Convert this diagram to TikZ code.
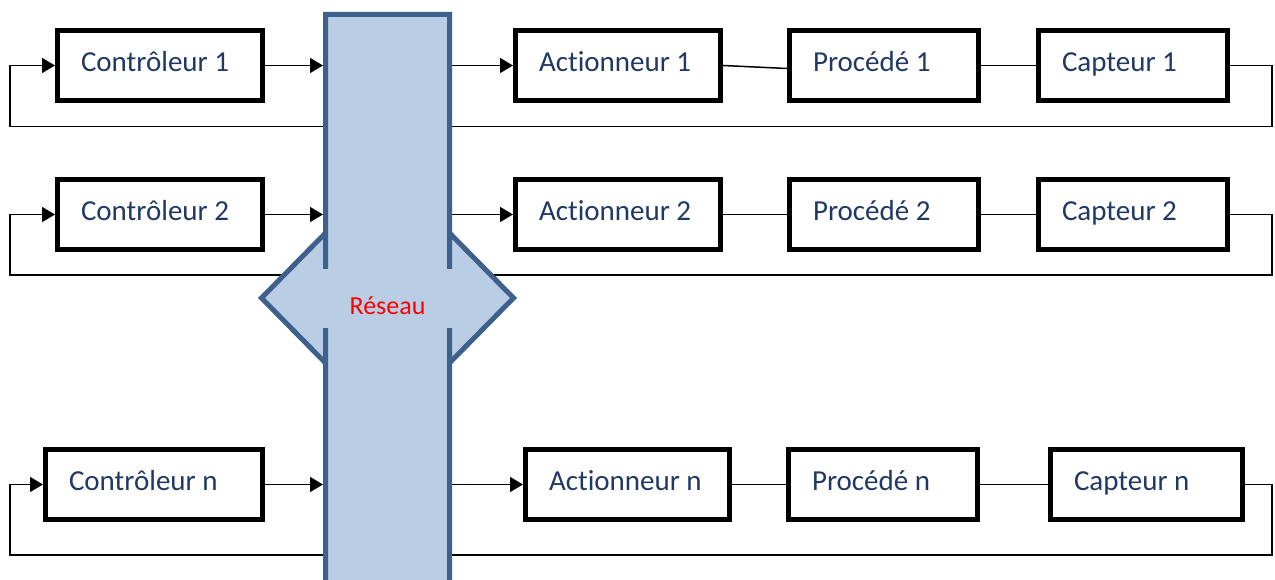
\documentclass[tikz,border=0pt]{standalone}
\usepackage{fontspec}
\setmainfont[Ligatures=NoCommon]{Carlito}
\usetikzlibrary{positioning,arrows.meta}
\definecolor{texte}{RGB}{31,56,100}
\definecolor{reseautrait}{RGB}{61,96,140}
\definecolor{reseaufond}{RGB}{185,205,228}

\begin{document}
\begin{tikzpicture}[x=1pt,y=-1pt,
    bloc/.style = {draw, line width=5pt, minimum height=70pt, inner xsep=23.5pt, text width=#1, align=flush left,
                   text height=20pt, text depth=8.5pt, text=texte, font=\fontsize{29}{34}\selectfont},
    bloc/.default=158pt,
    lien/.style = {line width=1.5pt},
    fleche/.style = {lien, -{Triangle[length=13pt,width=15pt]}}]
    \useasboundingbox (0,0) rectangle (1275,580);

    % boucle 1
    \node[bloc] (ctl1) at (160,65.5) {Contrôleur 1};
    \node[bloc, right=248pt of ctl1] (act1) {Actionneur 1};
    \node[bloc=142pt, right=64pt of act1] (proc1) {Procédé 1};
    \node[bloc=142pt, right=55pt of proc1] (cap1) {Capteur 1};

    % boucle 2
    \node[bloc] (ctl2) at (160,214.5) {Contrôleur 2};
    \node[bloc, right=248pt of ctl2] (act2) {Actionneur 2};
    \node[bloc=142pt, right=64pt of act2] (proc2) {Procédé 2};
    \node[bloc=142pt, right=55pt of proc2] (cap2) {Capteur 2};

    % boucle n
    \node[bloc=170pt] (ctln) at (154,484.5) {Contrôleur n};
    \node[bloc=157pt, right=258pt of ctln] (actn) {Actionneur n};
    \node[bloc=142pt, right=54pt of actn] (procn) {Procédé n};
    \node[bloc=145pt, right=68pt of procn] (capn) {Capteur n};

    \draw[lien] (act1.east) -- ([yshift=-3pt]proc1.west);
    \draw[lien] (proc1) -- (cap1);
    \draw[lien] (act2) -- (proc2);
    \draw[lien] (proc2) -- (cap2);
    \draw[lien] (actn) -- (procn);
    \draw[lien] (procn) -- (capn);

    % retours
    \coordinate (ret1d) at (1272,126.5);
    \coordinate (ret1g) at (10,126.5);
    \coordinate (ret2d) at (1272,275);
    \coordinate (ret2g) at (10,275);
    \coordinate (retnd) at (1272,555);
    \coordinate (retng) at (10,555);
    \draw[fleche] (cap1.east) -| (ret1d) -- (ret1g) |- (ctl1.west);
    \draw[fleche] (cap2.east) -| (ret2d) -- (ret2g) |- (ctl2.west);
    \draw[fleche] (capn.east) -| (retnd) -- (retng) |- (ctln.west);

    % reseau
    \fill[reseaufond] (325.5,14.5) -- (449.5,14.5) -- (449.5,233) -- (513.5,298) -- (449.5,363) -- (449.5,590)
        -- (325.5,590) -- (325.5,363) -- (261.5,298) -- (325.5,233) -- cycle;
    \draw[reseautrait, line width=5pt]
        (325.5,269) -- (325.5,14.5) -- (449.5,14.5) -- (449.5,269)
        (325.5,328) -- (325.5,590) (449.5,328) -- (449.5,590)
        (325.5,233) -- (261.5,298) -- (325.5,363)
        (449.5,233) -- (513.5,298) -- (449.5,363);
    \node[text=red, font=\fontsize{26}{31}\selectfont] (reseau) at (387.5,306) {Réseau};

    \coordinate (resg) at (323,0);
    \coordinate (resd) at (452,0);
    \draw[fleche] (ctl1.east) -- (ctl1.east -| resg);
    \draw[fleche] (ctl2.east) -- (ctl2.east -| resg);
    \draw[fleche] (ctln.east) -- (ctln.east -| resg);
    \draw[fleche] (act1.west -| resd) -- (act1.west);
    \draw[fleche] (act2.west -| resd) -- (act2.west);
    \draw[fleche] (actn.west -| resd) -- (actn.west);
\end{tikzpicture}
\end{document}
